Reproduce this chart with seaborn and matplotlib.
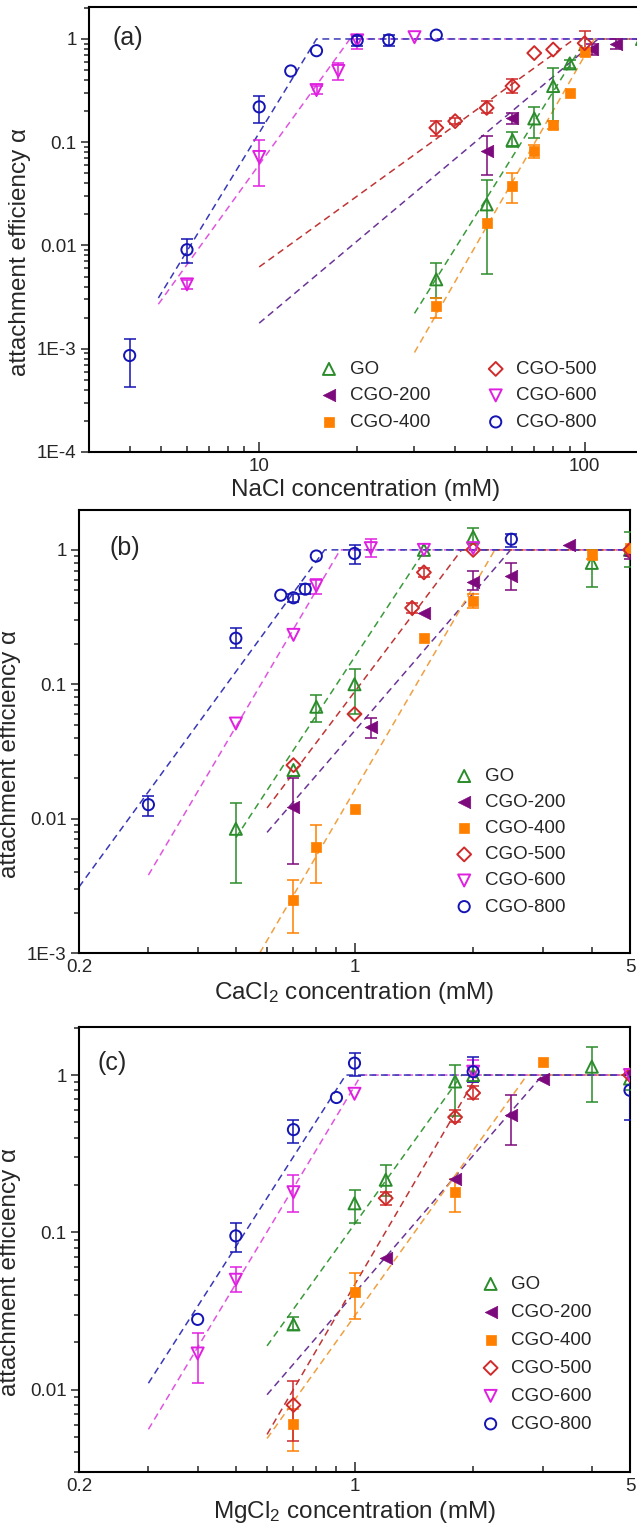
import matplotlib
matplotlib.use("Agg")
import matplotlib.pyplot as plt
import seaborn as sns
import numpy as np
import pandas as pd
from matplotlib.ticker import FixedLocator, FixedFormatter, LogLocator, NullFormatter

# ---------------- data ----------------
series = ["GO", "CGO-200", "CGO-400", "CGO-500", "CGO-600", "CGO-800"]

# (a) NaCl
a_x = {
    "GO": [35, 50, 60, 70, 80, 90, 150],
    "CGO-200": [50, 60, 105, 125, 150],
    "CGO-400": [35, 50, 60, 70, 80, 90, 100, 150],
    "CGO-500": [35, 40, 50, 60, 70, 80, 100],
    "CGO-600": [6, 10, 15, 17.5, 20, 30],
    "CGO-800": [4, 6, 10, 12.5, 15, 20, 25, 35],
}
a_y = {
    "GO": [0.0047, 0.025, 0.105, 0.17, 0.35, 0.58, 1.0],
    "CGO-200": [0.083, 0.17, 0.80, 0.90, 1.0],
    "CGO-400": [0.0026, 0.0165, 0.038, 0.082, 0.148, 0.30, 0.74, 1.04],
    "CGO-500": [0.138, 0.16, 0.215, 0.35, 0.73, 0.79, 0.91],
    "CGO-600": [0.0042, 0.072, 0.32, 0.49, 0.97, 1.04],
    "CGO-800": [0.00086, 0.0091, 0.22, 0.49, 0.77, 0.97, 0.98, 1.09],
}
a_err = {
    "GO": [(0.0031, 0.0068), (0.0053, 0.043), (0.09, 0.125), (0.11, 0.22), (0.16, 0.52), (0.52, 0.63), None],
    "CGO-200": [(0.048, 0.115), (0.15, 0.19), (0.7, 0.9), (0.8, 1.0), None],
    "CGO-400": [(0.002, 0.0031), None, (0.026, 0.05), (0.07, 0.093), (0.135, 0.16), None, (0.68, 0.82), None],
    "CGO-500": [(0.115, 0.16), (0.15, 0.17), (0.19, 0.25), (0.3, 0.41), None, None, (0.78, 1.2)],
    "CGO-600": [(0.0038, 0.0046), (0.038, 0.105), (0.29, 0.35), (0.4, 0.58), (0.8, 1.06), None],
    "CGO-800": [(0.00043, 0.00125), (0.0067, 0.0115), (0.155, 0.28), None, None, (0.85, 1.08), (0.85, 1.1), None],
}
# fit lines: start x, start y, x where alpha reaches 1
a_fit = {
    "GO": (30, 0.0022, 101),
    "CGO-200": (10, 0.00177, 110),
    "CGO-400": (30, 0.00092, 107),
    "CGO-500": (10, 0.0062, 93),
    "CGO-600": (4.9, 0.0027, 19),
    "CGO-800": (4.9, 0.0031, 15),
}

# (b) CaCl2
b_x = {
    "GO": [0.5, 0.7, 0.8, 1.0, 1.5, 2.0, 4.0, 5.0],
    "CGO-200": [0.7, 1.1, 1.5, 2.0, 2.5, 3.5, 5.0],
    "CGO-400": [0.7, 0.8, 1.0, 1.5, 2.0, 4.0, 5.0],
    "CGO-500": [0.7, 1.0, 1.4, 1.5, 2.0, 5.0],
    "CGO-600": [0.5, 0.7, 0.8, 1.1, 1.5, 2.0],
    "CGO-800": [0.3, 0.5, 0.65, 0.7, 0.75, 0.8, 1.0, 2.5],
}
b_y = {
    "GO": [0.0084, 0.023, 0.068, 0.10, 1.0, 1.25, 0.80, 1.0],
    "CGO-200": [0.0122, 0.048, 0.34, 0.58, 0.64, 1.09, 0.92],
    "CGO-400": [0.0025, 0.0062, 0.0117, 0.22, 0.415, 0.92, 1.03],
    "CGO-500": [0.025, 0.060, 0.37, 0.68, 1.0, 1.0],
    "CGO-600": [0.051, 0.233, 0.54, 1.03, 1.0, 1.03],
    "CGO-800": [0.0127, 0.22, 0.46, 0.44, 0.51, 0.90, 0.94, 1.2],
}
b_err = {
    "GO": [(0.0033, 0.013), None, (0.052, 0.083), (0.06, 0.13), None, (1.1, 1.45), (0.53, 1.0), (0.75, 1.35)],
    "CGO-200": [(0.0046, 0.02), (0.04, 0.056), None, (0.5, 0.7), (0.5, 0.8), None, (0.85, 1.0)],
    "CGO-400": [(0.0014, 0.0035), (0.0033, 0.009), None, None, (0.37, 0.47), (0.85, 1.0), None],
    "CGO-500": [None, None, (0.34, 0.4), (0.63, 0.73), None, None],
    "CGO-600": [None, None, (0.47, 0.61), (0.88, 1.2), None, None],
    "CGO-800": [(0.0105, 0.0147), (0.185, 0.26), None, (0.41, 0.47), (0.47, 0.56), None, (0.78, 1.08), (1.05, 1.32)],
}
b_fit = {
    "GO": (0.5, 0.0072, 1.51),
    "CGO-200": (0.6, 0.0079, 2.49),
    "CGO-400": (0.575, 0.001, 2.27),
    "CGO-500": (0.6, 0.012, 1.87),
    "CGO-600": (0.3, 0.0038, 0.92),
    "CGO-800": (0.2, 0.0031, 0.84),
}

# (c) MgCl2
c_x = {
    "GO": [0.7, 1.0, 1.2, 1.8, 2.0, 4.0, 5.0],
    "CGO-200": [1.2, 1.8, 2.5, 3.0, 5.0],
    "CGO-400": [0.7, 1.0, 1.8, 3.0],
    "CGO-500": [0.7, 1.2, 1.8, 2.0, 5.0],
    "CGO-600": [0.4, 0.5, 0.7, 1.0, 2.0, 5.0],
    "CGO-800": [0.4, 0.5, 0.7, 0.9, 1.0, 2.0, 5.0],
}
c_y = {
    "GO": [0.026, 0.153, 0.216, 0.91, 1.0, 1.13, 0.95],
    "CGO-200": [0.069, 0.22, 0.557, 0.94, 1.05],
    "CGO-400": [0.0061, 0.042, 0.18, 1.21],
    "CGO-500": [0.008, 0.165, 0.54, 0.77, 1.0],
    "CGO-600": [0.017, 0.050, 0.18, 0.76, 1.05, 1.0],
    "CGO-800": [0.028, 0.095, 0.45, 0.72, 1.19, 1.05, 0.80],
}
c_err = {
    "GO": [(0.024, 0.029), (0.115, 0.185), (0.17, 0.27), (0.55, 1.15), None, (0.67, 1.5), (0.8, 1.1)],
    "CGO-200": [None, None, (0.36, 0.75), None, None],
    "CGO-400": [(0.0041, 0.0075), (0.028, 0.055), (0.135, 0.22), None],
    "CGO-500": [(0.0047, 0.0113), (0.15, 0.18), (0.5, 0.6), (0.7, 0.85), None],
    "CGO-600": [(0.011, 0.023), (0.042, 0.06), (0.135, 0.23), None, (0.9, 1.25), None],
    "CGO-800": [None, (0.075, 0.115), (0.37, 0.52), None, (0.98, 1.38), (0.9, 1.3), (0.52, 1.0)],
}
c_fit = {
    "GO": (0.6, 0.019, 1.87),
    "CGO-200": (0.6, 0.0093, 3.0),
    "CGO-400": (0.6, 0.0049, 2.74),
    "CGO-500": (0.6, 0.0052, 2.05),
    "CGO-600": (0.3, 0.0056, 1.04),
    "CGO-800": (0.3, 0.011, 0.95),
}

# ---------------- styles ----------------
marker_color = {"GO": "#2a8c2a", "CGO-200": "#7d0a7d", "CGO-400": "#ff8000",
                "CGO-500": "#d02a2a", "CGO-600": "#e020e0", "CGO-800": "#1414b4"}
fit_color = {"GO": "#3a9a3a", "CGO-200": "#6b3596", "CGO-400": "#f0a040",
             "CGO-500": "#c03535", "CGO-600": "#e055e0", "CGO-800": "#3838b8"}
marker_style = {"GO": "^", "CGO-200": "<", "CGO-400": "s",
                "CGO-500": "D", "CGO-600": "v", "CGO-800": "o"}
marker_size = {"GO": 75, "CGO-200": 80, "CGO-400": 60,
               "CGO-500": 50, "CGO-600": 75, "CGO-800": 65}
filled = {"GO": False, "CGO-200": True, "CGO-400": True,
          "CGO-500": False, "CGO-600": False, "CGO-800": False}

sns.set_theme(style="ticks")
plt.rcParams["font.family"] = ["Liberation Sans", "DejaVu Sans"]
plt.rcParams["mathtext.default"] = "regular"

fig = plt.figure(figsize=(6.37, 15.31), dpi=100)

panels = [
    dict(pos=[89 / 637, 1 - 452 / 1531, 553 / 637, 445 / 1531], x=a_x, y=a_y, err=a_err, fit=a_fit,
         xlim=(3, 150), ylim=(1e-4, 2.04), xt=[10, 100], xtl=["10", "100"],
         yt=[1e-4, 1e-3, 0.01, 0.1, 1], ytl=["1E-4", "1E-3", "0.01", "0.1", "1"],
         xlabel="NaCl concentration (mM)", tag="(a)", tagpos=(0.042, 0.93),
         legend=dict(ncol=2, anchor=(0.40, 0.222), colsp=2.9, lsp=0.5)),
    dict(pos=[79 / 637, 1 - 953 / 1531, 551 / 637, 443 / 1531], x=b_x, y=b_y, err=b_err, fit=b_fit,
         xlim=(0.2, 5), ylim=(1e-3, 1.98), xt=[0.2, 1, 5], xtl=["0.2", "1", "5"],
         yt=[1e-3, 0.01, 0.1, 1], ytl=["1E-3", "0.01", "0.1", "1"],
         xlabel="CaCl$_2$ concentration (mM)", tag="(b)", tagpos=(0.056, 0.914),
         legend=dict(ncol=1, anchor=(0.665, 0.435), colsp=1.0, lsp=0.48)),
    dict(pos=[79 / 637, 1 - 1472 / 1531, 551 / 637, 445 / 1531], x=c_x, y=c_y, err=c_err, fit=c_fit,
         xlim=(0.2, 5), ylim=(0.003, 2.02), xt=[0.2, 1, 5], xtl=["0.2", "1", "5"],
         yt=[0.01, 0.1, 1], ytl=["0.01", "0.1", "1"],
         xlabel="MgCl$_2$ concentration (mM)", tag="(c)", tagpos=(0.034, 0.92),
         legend=dict(ncol=1, anchor=(0.713, 0.458), colsp=1.0, lsp=0.58)),
]

for p in panels:
    ax = fig.add_axes(p["pos"])
    ax.set_xscale("log")
    ax.set_yscale("log")
    xmax = p["xlim"][1]

    # dashed fit lines
    for s in series:
        x0, y0, xb = p["fit"][s]
        fit_df = pd.DataFrame({"x": [x0, xb, xmax], "y": [y0, 1.0, 1.0]})
        sns.lineplot(data=fit_df, x="x", y="y", ax=ax, color=fit_color[s], lw=1.1,
                     estimator=None, sort=False, dashes=False, zorder=2)
        ax.lines[-1].set_dashes((4.5, 3))

    # error bars
    for s in series:
        for xv, yv, e in zip(p["x"][s], p["y"][s], p["err"][s]):
            if e is None:
                continue
            ax.errorbar([xv], [yv], yerr=[[yv - e[0]], [e[1] - yv]], fmt="none",
                        ecolor=marker_color[s], elinewidth=1.1, capsize=4, capthick=1.1,
                        zorder=3, clip_on=True)

    # markers
    for s in series:
        df = pd.DataFrame({"x": p["x"][s], "y": p["y"][s]})
        c = marker_color[s]
        if filled[s]:
            sns.scatterplot(data=df, x="x", y="y", ax=ax, marker=marker_style[s], s=marker_size[s],
                            color=c, edgecolor=c, linewidth=0.5, label=s, zorder=4)
        else:
            sns.scatterplot(data=df, x="x", y="y", ax=ax, marker=marker_style[s], s=marker_size[s],
                            facecolor="none", edgecolor=c, linewidth=1.4, label=s, zorder=4)

    ax.set_xlim(*p["xlim"])
    ax.set_ylim(*p["ylim"])
    ax.xaxis.set_major_locator(FixedLocator(p["xt"]))
    ax.xaxis.set_major_formatter(FixedFormatter(p["xtl"]))
    ax.xaxis.set_minor_locator(LogLocator(base=10, subs=np.arange(2, 10)))
    ax.xaxis.set_minor_formatter(NullFormatter())
    ax.yaxis.set_major_locator(FixedLocator(p["yt"]))
    ax.yaxis.set_major_formatter(FixedFormatter(p["ytl"]))
    ax.yaxis.set_minor_locator(LogLocator(base=10, subs=np.arange(2, 10)))
    ax.yaxis.set_minor_formatter(NullFormatter())

    ax.tick_params(axis="x", which="both", direction="in", labelsize=13.5, pad=4, width=1.1)
    ax.tick_params(axis="x", which="major", length=7)
    ax.tick_params(axis="x", which="minor", length=4)
    ax.tick_params(axis="y", which="both", direction="out", labelsize=13.5, pad=3, width=1.1)
    ax.tick_params(axis="y", which="major", length=6)
    ax.tick_params(axis="y", which="minor", length=3.5)
    for sp in ax.spines.values():
        sp.set_linewidth(1.5)
        sp.set_color("black")

    ax.set_xlabel(p["xlabel"], fontsize=17.5, labelpad=3)
    ax.set_ylabel("attachment efficiency α", fontsize=17.5)
    ax.yaxis.set_label_coords(-0.105, 0.45)
    ax.text(p["tagpos"][0], p["tagpos"][1], p["tag"], transform=ax.transAxes,
            fontsize=18, va="center", ha="left")

    lg = p["legend"]
    handles, labels = ax.get_legend_handles_labels()
    ax.legend(handles, labels, ncol=lg["ncol"], loc="upper left", bbox_to_anchor=lg["anchor"],
              frameon=False, fontsize=13.5, handletextpad=0.5, labelspacing=lg["lsp"],
              columnspacing=lg["colsp"], handlelength=1.2, borderaxespad=0)

fig.savefig("out.png", dpi=100)
